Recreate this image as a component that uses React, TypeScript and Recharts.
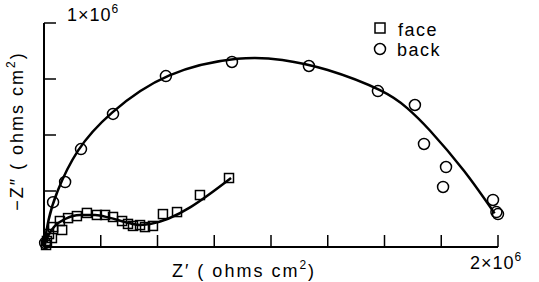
import { ComposedChart, Scatter, Line, XAxis, YAxis } from "recharts";

// Nyquist plot, values in ohms cm2
const faceZr = [
  9e3, 13e3, 22e3, 35e3, 40e3, 70e3, 80e3, 106e3, 145e3, 189e3, 233e3, 269e3,
  304e3, 344e3, 370e3, 392e3, 423e3, 445e3, 480e3, 524e3, 586e3, 687e3, 815e3,
];
const faceZi = [
  9e3, 27e3, 58e3, 40e3, 89e3, 116e3, 76e3, 129e3, 138e3, 152e3, 143e3, 143e3,
  134e3, 116e3, 103e3, 94e3, 98e3, 89e3, 94e3, 147e3, 156e3, 232e3, 308e3,
];

const backZr = [
  5e3, 40e3, 93e3, 163e3, 304e3, 537e3, 828e3, 1167e3, 1471e3, 1634e3, 1674e3,
  1771e3, 1758e3, 1978e3, 1993e3, 2000e3,
];
const backZi = [
  18e3, 200e3, 290e3, 437e3, 594e3, 763e3, 826e3, 808e3, 696e3, 634e3, 460e3,
  357e3, 268e3, 210e3, 156e3, 147e3,
];

// fitted curves
const faceFitZr = [0, 18e3, 48e3, 93e3, 159e3, 225e3, 290e3, 357e3, 423e3, 467e3, 824e3];
const faceFitZi = [0, 49e3, 94e3, 125e3, 143e3, 143e3, 130e3, 112e3, 98e3, 103e3, 308e3];

const backFitZr = [
  0, 20e3, 60e3, 150e3, 300e3, 550e3, 850e3, 1050e3, 1250e3, 1480e3, 1600e3,
  1700e3, 1850e3, 1985e3,
];
const backFitZi = [
  0, 120e3, 250e3, 430e3, 600e3, 765e3, 840e3, 835e3, 790e3, 700e3, 620e3,
  520e3, 340e3, 150e3,
];

const xTicks = [0, 250e3, 500e3, 750e3, 1000e3, 1250e3, 1500e3, 1750e3, 2000e3];
const yTicks = [0, 250e3, 500e3, 750e3, 1000e3];

const zip = (xs: number[], ys: number[]) => xs.map((x, i) => ({ x, y: ys[i] }));

const FONT = "'Liberation Sans', Arial, sans-serif";

const Square = (p: any) => (
  <rect x={p.cx - 4.5} y={p.cy - 4.5} width={9} height={9} fill="none" stroke="#000" strokeWidth={1.5} />
);
const Circle = (p: any) => (
  <circle cx={p.cx} cy={p.cy} r={5.5} fill="none" stroke="#000" strokeWidth={1.5} />
);

const YTick = (p: any) => {
  const { x, y, payload } = p;
  return (
    <g>
      <line x1={x} x2={x + 12} y1={y} y2={y} stroke="#000" strokeWidth={1.5} />
      {payload.value === 1e6 && (
        <text x={x + 23} y={y - 2} fontSize={18} letterSpacing={1} fontFamily={FONT} fill="#000">
          1×10<tspan dy={-8} fontSize={12}>6</tspan>
        </text>
      )}
    </g>
  );
};

const XTick = (p: any) => {
  const { x, y, payload } = p;
  if (payload.value === 0) return <g />;
  return (
    <g>
      <line x1={x} x2={x} y1={y} y2={y - 12} stroke="#000" strokeWidth={1.5} />
      {payload.value === 2e6 && (
        <text x={x - 28} y={y + 22} fontSize={18} letterSpacing={1} fontFamily={FONT} fill="#000">
          2×10<tspan dy={-8} fontSize={12}>6</tspan>
        </text>
      )}
    </g>
  );
};

export default function App() {
  return (
    <div style={{ position: "absolute", left: 0, top: 0, background: "#fff" }}>
      <ComposedChart
        width={539}
        height={282}
        margin={{ top: 23, right: 41, left: 0, bottom: 0 }}
      >
        <XAxis
          type="number"
          dataKey="x"
          domain={[0, 2e6]}
          ticks={xTicks}
          height={35}
          tickSize={0}
          tickMargin={0}
          tickLine={false}
          axisLine={{ stroke: "#000", strokeWidth: 2 }}
          tick={<XTick />}
          interval={0}
        />
        <YAxis
          type="number"
          dataKey="y"
          domain={[0, 1e6]}
          ticks={yTicks}
          width={44}
          tickSize={0}
          tickMargin={0}
          tickLine={false}
          axisLine={{ stroke: "#000", strokeWidth: 2 }}
          tick={<YTick />}
          interval={0}
        />
        <Line
          data={zip(backFitZr, backFitZi)}
          dataKey="y"
          type="natural"
          stroke="#000"
          strokeWidth={2.5}
          dot={false}
          isAnimationActive={false}
        />
        <Line
          data={zip(faceFitZr, faceFitZi)}
          dataKey="y"
          type="monotone"
          stroke="#000"
          strokeWidth={2.5}
          dot={false}
          isAnimationActive={false}
        />
        <Scatter data={zip(faceZr, faceZi)} shape={Square} isAnimationActive={false} />
        <Scatter data={zip(backZr, backZi)} shape={Circle} isAnimationActive={false} />

        <rect x={375} y={23} width={10} height={10} fill="none" stroke="#000" strokeWidth={1.5} />
        <text x={398} y={36} fontSize={18} letterSpacing={1.5} fontFamily={FONT} fill="#000">face</text>
        <circle cx={380} cy={49} r={5.5} fill="none" stroke="#000" strokeWidth={1.5} />
        <text x={397} y={56} fontSize={18} letterSpacing={1.5} fontFamily={FONT} fill="#000">back</text>

        <text x={172} y={277} fontSize={18} letterSpacing={2} fontFamily={FONT} fill="#000">
          Z′ ( ohms cm<tspan dy={-8} fontSize={12}>2</tspan><tspan dy={8}>)</tspan>
        </text>
        <text
          x={0}
          y={0}
          fontSize={18}
          letterSpacing={2}
          fontFamily={FONT}
          fill="#000"
          textAnchor="middle"
          transform="translate(23,131) rotate(-90)"
        >
          −Z″ ( ohms cm<tspan dy={-8} fontSize={12}>2</tspan><tspan dy={8}>)</tspan>
        </text>
      </ComposedChart>
    </div>
  );
}
